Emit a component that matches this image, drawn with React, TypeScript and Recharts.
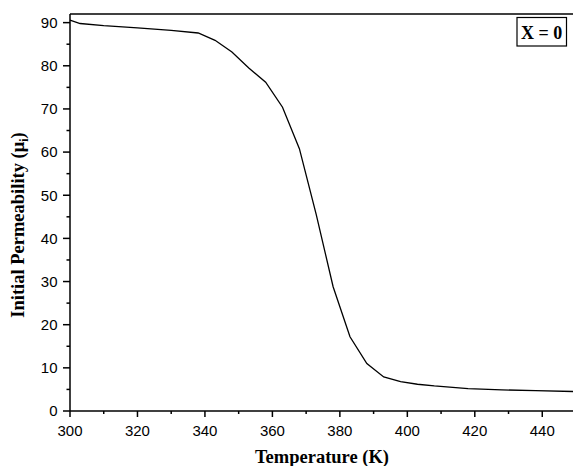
import { LineChart, Line, XAxis, YAxis, ReferenceLine } from "recharts"

const temperature = [300, 303, 310, 320, 330, 338, 343, 348, 353, 358, 363, 368, 373, 378, 383, 388, 393, 398, 403, 408, 418, 428, 438, 450]
const permeability = [90.6, 89.8, 89.3, 88.8, 88.2, 87.6, 85.9, 83.2, 79.5, 76.2, 70.4, 60.8, 45.5, 28.8, 17.2, 11.0, 7.9, 6.8, 6.2, 5.8, 5.2, 4.9, 4.7, 4.5]

const xTicks = [300, 310, 320, 330, 340, 350, 360, 370, 380, 390, 400, 410, 420, 430, 440, 450]
const yTicks = [0, 5, 10, 15, 20, 25, 30, 35, 40, 45, 50, 55, 60, 65, 70, 75, 80, 85, 90]

const chartData = temperature.map((t, i) => ({ temp: t, mu: permeability[i] }))

const sans = "'Liberation Sans', Arial, sans-serif"
const serif = "'Liberation Serif', 'Times New Roman', serif"

function XTick(props: any) {
  const { x, y, payload } = props
  const major = payload.value % 20 === 0
  return (
    <g>
      <line x1={x} x2={x} y1={y} y2={y + (major ? 6 : 3)} stroke="#000" strokeWidth={1.5} />
      {major && payload.value < 450 && (
        <text x={x} y={y + 24.5} textAnchor="middle" fontSize={15} fontFamily={sans} fill="#000">
          {payload.value}
        </text>
      )}
    </g>
  )
}

function YTick(props: any) {
  const { x, y, payload } = props
  const major = payload.value % 10 === 0
  return (
    <g>
      <line x1={x - (major ? 7 : 3.5)} x2={x} y1={y} y2={y} stroke="#000" strokeWidth={1.5} />
      {major && (
        <text x={x - 12.5} y={y + 5.4} textAnchor="end" fontSize={15} fontFamily={sans} fill="#000">
          {payload.value}
        </text>
      )}
    </g>
  )
}

export default function App() {
  return (
    <div style={{ position: "relative", width: 573, height: 466, overflow: "hidden", background: "#fff" }}>
      <style>{`body{margin:0}`}</style>
      <LineChart width={580} height={466} data={chartData} margin={{ top: 14, right: 4, left: 0, bottom: 0 }}>
        <XAxis
          dataKey="temp"
          type="number"
          domain={[300, 450]}
          ticks={xTicks}
          interval={0}
          tickSize={0}
          tickMargin={0}
          tickLine={false}
          tick={<XTick />}
          height={55}
          axisLine={{ stroke: "#000", strokeWidth: 1.5 }}
        />
        <YAxis
          type="number"
          domain={[0, 92]}
          ticks={yTicks}
          interval={0}
          tickSize={0}
          tickMargin={0}
          tickLine={false}
          tick={<YTick />}
          width={70}
          axisLine={{ stroke: "#000", strokeWidth: 1.5 }}
        />
        <ReferenceLine y={92} stroke="#000" strokeWidth={1.3} />
        <Line
          type="linear"
          dataKey="mu"
          stroke="#000"
          strokeWidth={1.3}
          dot={false}
          isAnimationActive={false}
        />
      </LineChart>
      <svg width={573} height={466} style={{ position: "absolute", left: 0, top: 0, pointerEvents: "none" }}>
        <text x={322} y={463} textAnchor="middle" fontSize={18.5} fontWeight="bold" fontFamily={serif} fill="#000">
          Temperature (K)
        </text>
        <text
          transform="translate(23.5,225) rotate(-90)"
          textAnchor="middle"
          fontSize={18.5}
          fontWeight="bold"
          fontFamily={serif}
          fill="#000"
        >
          Initial Permeability (μ<tspan fontSize={12} dy={4}>i</tspan><tspan dy={-4}>)</tspan>
        </text>
        <rect x={517} y={17.5} width={49.5} height={28.5} fill="#fff" stroke="#000" strokeWidth={1.2} />
        <text x={541.7} y={38.5} textAnchor="middle" fontSize={18} fontWeight="bold" fontFamily={serif} fill="#000">
          X = 0
        </text>
      </svg>
    </div>
  )
}
